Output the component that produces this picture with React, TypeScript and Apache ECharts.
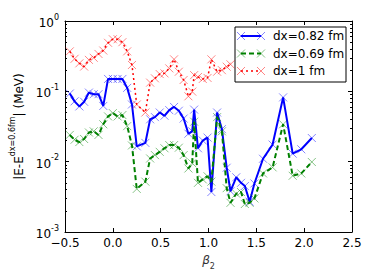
import React, { useEffect, useRef } from 'react';
import * as echarts from 'echarts';

// beta_2 grid (shared)
const beta = [
  -0.45, -0.40, -0.35, -0.30, -0.25, -0.20, -0.15, -0.10, -0.05, 0.00,
  0.05, 0.10, 0.15, 0.20, 0.25, 0.34, 0.39, 0.44, 0.49, 0.54,
  0.59, 0.64, 0.69, 0.74, 0.79, 0.83, 0.85, 0.89, 0.94, 0.99,
  1.03, 1.09, 1.14, 1.19, 1.23, 1.29, 1.34, 1.38, 1.43, 1.48,
  1.57, 1.67, 1.78, 1.88, 1.97, 2.08,
];

// |E - E(dx=0.6 fm)| in MeV
const errDx082 = [
  0.093, 0.072, 0.061, 0.071, 0.096, 0.091, 0.091, 0.062, 0.150, 0.150,
  0.150, 0.150, 0.112, 0.065, 0.0165, 0.0185, 0.040, 0.043, 0.050, 0.045,
  0.054, 0.060, 0.053, 0.041, 0.025, 0.027, 0.055, 0.0155, 0.020, 0.022,
  0.0037, 0.050, 0.029, 0.0082, 0.0038, 0.0060, 0.0050, 0.0045, 0.0027, 0.0049,
  0.011, 0.0175, 0.082, 0.013, 0.015, 0.0217,
];

const errDx069 = [
  0.024, 0.0205, 0.019, 0.021, 0.026, 0.027, 0.024, 0.034, 0.044, 0.049,
  0.044, 0.046, 0.032, 0.017, 0.0041, 0.0052, 0.0111, 0.0124, 0.0138, 0.0155,
  0.0172, 0.0172, 0.0158, 0.0124, 0.0080, 0.0095, 0.037, 0.0050, 0.0056, 0.0062,
  0.0052, 0.043, 0.027, 0.0042, 0.0026, 0.0035, 0.0037, 0.0025, 0.0026, 0.0030,
  0.0068, 0.0083, 0.034, 0.0063, 0.0068, 0.0099,
];

const errDx1 = [
  0.37, 0.29, 0.25, 0.225, 0.28, 0.30, 0.34, 0.38, 0.49, 0.55,
  0.55, 0.50, 0.37, 0.237, 0.065, 0.050, 0.133, 0.153, 0.176, 0.180,
  0.212, 0.285, 0.19, 0.145, 0.085, 0.099, 0.17, 0.16, 0.15, 0.155,
  0.285, 0.19, 0.20, 0.224, 0.242,
];

const seriesNames = ['dx=0.82 fm', 'dx=0.69 fm', 'dx=1 fm'];
const seriesColors = ['#0000ff', '#008000', '#ff0000'];

const xMin = -0.5;
const xMax = 2.5;
const xStep = 0.5;
const yMin = 0.001;
const yMax = 1;
const yMinorTicks = [
  0.002, 0.003, 0.004, 0.005, 0.006, 0.007, 0.008, 0.009,
  0.02, 0.03, 0.04, 0.05, 0.06, 0.07, 0.08, 0.09,
  0.2, 0.3, 0.4, 0.5, 0.6, 0.7, 0.8, 0.9,
];

const FONT = 'DejaVu Sans';
const XSYM = 'path://M0,0L10,10M10,0L0,10';

function pairs(vals: number[]) {
  return vals.map((v, i) => [beta[i], v]);
}

export default function App() {
  const ref = useRef<HTMLDivElement>(null);
  useEffect(() => {
    if (!ref.current) return;
    const chart = echarts.init(ref.current, undefined, { renderer: 'svg' });

    const gridLeft = 65, gridTop = 21, gridRight = 22, gridBottom = 48;

    const yLabelRich = {
      b: { fontSize: 12, fontFamily: FONT, color: '#000', lineHeight: 16, verticalAlign: 'bottom' },
      sup: { fontSize: 8, fontFamily: FONT, color: '#000', lineHeight: 8, verticalAlign: 'top' },
    };

    const baseY = {
      type: 'log' as const,
      logBase: 10,
      min: yMin,
      max: yMax,
      splitLine: { show: false },
    };

    const lineSeries = (idx: number, vals: number[], lineType: any, width: number) => ({
      name: seriesNames[idx],
      type: 'line',
      xAxisIndex: 0,
      yAxisIndex: 0,
      data: pairs(vals),
      symbol: XSYM,
      symbolSize: 8,
      showSymbol: true,
      itemStyle: { color: seriesColors[idx], borderColor: seriesColors[idx], borderWidth: 0.6, opacity: 0.8 },
      lineStyle: { color: seriesColors[idx], width, type: lineType, opacity: 1 },
      emphasis: { disabled: true },
      z: 2 + idx,
    });

    // Legend drawn manually (matplotlib style: markers at both ends)
    const legX = 235, legY = 27, legW = 111, legH = 55;
    const rowY = [36, 53.5, 71];
    const lineTypes: any[] = [null, [5, 3], [2, 3]];
    const legendChildren: any[] = [
      { type: 'rect', shape: { x: legX, y: legY, width: legW, height: legH }, style: { fill: '#fff', stroke: '#000', lineWidth: 1 } },
    ];
    seriesNames.forEach((n, i) => {
      const y = rowY[i];
      legendChildren.push({
        type: 'line',
        shape: { x1: 241, y1: y, x2: 261, y2: y },
        style: { stroke: seriesColors[i], lineWidth: i === 2 ? 1.5 : 2, lineDash: lineTypes[i] || undefined },
      });
      [241, 261].forEach((cx) => {
        legendChildren.push({ type: 'line', shape: { x1: cx - 4, y1: y - 4, x2: cx + 4, y2: y + 4 }, style: { stroke: seriesColors[i], lineWidth: 0.6, opacity: 0.8 } });
        legendChildren.push({ type: 'line', shape: { x1: cx - 4, y1: y + 4, x2: cx + 4, y2: y - 4 }, style: { stroke: seriesColors[i], lineWidth: 0.6, opacity: 0.8 } });
      });
      legendChildren.push({
        type: 'text',
        x: 273,
        y,
        style: { text: n, fontSize: 12, fontFamily: FONT, fill: '#000', verticalAlign: 'middle', align: 'left' },
      });
    });

    chart.setOption({
      animation: false,
      backgroundColor: '#fff',
      grid: { left: gridLeft, top: gridTop, right: gridRight, bottom: gridBottom, containLabel: false },
      xAxis: [
        {
          type: 'value',
          position: 'bottom',
          min: xMin,
          max: xMax,
          interval: xStep,
          axisLine: { show: true, onZero: false, lineStyle: { color: '#000', width: 1 } },
          axisTick: { show: true, inside: true, length: 4, lineStyle: { color: '#000' } },
          axisLabel: {
            fontSize: 12,
            fontFamily: FONT,
            color: '#000',
            margin: 5,
            formatter: (v: number) => (v < 0 ? '\u2212' + Math.abs(v).toFixed(1) : v.toFixed(1)),
          },
          splitLine: { show: false },
          name: '{b|β}{s|2}',
          nameLocation: 'middle',
          nameGap: 20,
          nameTextStyle: {
            rich: {
              b: { fontSize: 12, fontFamily: FONT, fontStyle: 'italic', color: '#333', lineHeight: 14, verticalAlign: 'top' },
              s: { fontSize: 8, fontFamily: FONT, color: '#333', lineHeight: 8, verticalAlign: 'bottom', padding: [0, 0, -3, 0] },
            },
          },
        },
        {
          type: 'value',
          position: 'top',
          min: xMin,
          max: xMax,
          interval: xStep,
          axisLine: { show: true, onZero: false, lineStyle: { color: '#000', width: 1 } },
          axisTick: { show: true, inside: true, length: 4, lineStyle: { color: '#000' } },
          axisLabel: { show: false },
          splitLine: { show: false },
        },
      ],
      yAxis: [
        {
          ...baseY,
          position: 'left',
          axisLine: { show: true, onZero: false, lineStyle: { color: '#000', width: 1 } },
          axisTick: { show: true, inside: true, length: 4, lineStyle: { color: '#000' } },
          axisLabel: {
            margin: 6,
            formatter: (v: number) => '{b|10}{sup|' + Math.round(Math.log10(v)) + '}',
            rich: yLabelRich,
          },
          name: '{b||E-E}{sup|dx=0.6fm}{b|| (MeV)}',
          nameLocation: 'middle',
          nameRotate: 90,
          nameGap: 31,
          nameTextStyle: {
            rich: {
              b: { fontSize: 12, fontFamily: FONT, color: '#000', lineHeight: 16, verticalAlign: 'bottom' },
              sup: { fontSize: 8, fontFamily: FONT, color: '#000', lineHeight: 8, verticalAlign: 'top' },
            },
          },
        },
        {
          ...baseY,
          position: 'right',
          axisLine: { show: true, onZero: false, lineStyle: { color: '#000', width: 1 } },
          axisTick: { show: true, inside: true, length: 4, lineStyle: { color: '#000' } },
          axisLabel: { show: false },
        },
        {
          ...baseY,
          position: 'left',
          axisLine: { show: false, onZero: false },
          axisTick: { show: true, inside: true, length: 2, customValues: yMinorTicks, lineStyle: { color: '#000' } },
          axisLabel: { show: false },
        },
        {
          ...baseY,
          position: 'right',
          axisLine: { show: false, onZero: false },
          axisTick: { show: true, inside: true, length: 2, customValues: yMinorTicks, lineStyle: { color: '#000' } },
          axisLabel: { show: false },
        },
      ],
      series: [
        lineSeries(0, errDx082, 'solid', 2),
        lineSeries(1, errDx069, [5, 3], 2),
        lineSeries(2, errDx1, [2, 3], 1.5),
      ],
      graphic: [{ type: 'group', z: 100, children: legendChildren }],
    });

    return () => chart.dispose();
  }, []);

  return (
    <div
      ref={ref}
      style={{ position: 'fixed', left: 0, top: 0, width: 374, height: 280, background: '#fff' }}
    />
  );
}
